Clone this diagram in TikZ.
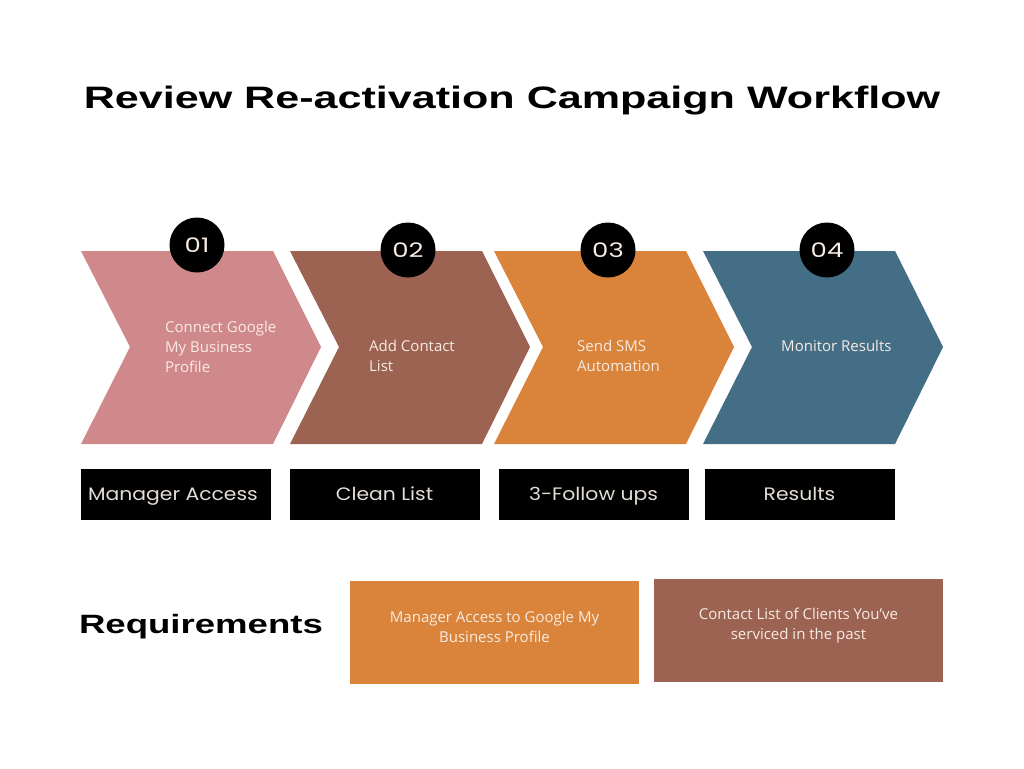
\documentclass[tikz,border=0pt]{standalone}
\usepackage{fontspec}
\setmainfont{Open Sans}
\newfontfamily\titlefont{Liberation Sans}
\newfontfamily\geofont{Poppins}
\definecolor{cpink}{HTML}{D0898B}
\definecolor{cbrown}{HTML}{9C6252}
\definecolor{corange}{HTML}{D9843A}
\definecolor{cblue}{HTML}{436E85}
\definecolor{ccream}{HTML}{F7EBE3}
\definecolor{cgrey}{HTML}{E4DED8}
\tikzset{
  chevtext/.style={anchor=north west, align=left, inner sep=0pt, text=ccream,
    font=\fontsize{15}{20}\selectfont},
  numcircle/.style={circle, fill=black, minimum size=55pt, inner sep=0pt},
  numtext/.style={inner sep=0pt, text=ccream, xscale=1.3, text height=14pt, text depth=0pt,
    font=\geofont\fontsize{20}{20}\selectfont},
  labelbox/.style={rectangle, fill=black, minimum width=190pt, minimum height=51pt,
    inner sep=0pt},
  labeltext/.style={inner sep=0pt, text=cgrey, xscale=1.13, text height=13pt, text depth=0pt,
    font=\geofont\fontsize{18}{18}\selectfont},
  reqbox/.style={rectangle, minimum width=289pt, minimum height=103pt, inner sep=0pt},
  reqtext/.style={align=center, inner sep=0pt, text=ccream,
    font=\fontsize{15}{20.5}\selectfont},
  bigtitle/.style={anchor=base, inner sep=0pt, xscale=1.39,
    font=\titlefont\bfseries\fontsize{31}{31}\selectfont}
}
\newcommand\chevronshape[3]{%
  \fill[#2] (#1,251) -- ++(192,0) -- ++(48,96) -- ++(-48,97) -- ++(-192,0) -- ++(49,-97) -- cycle;
  \coordinate (#3) at (#1,251);}
\begin{document}
\begin{tikzpicture}[x=1pt,y=-1pt]
\useasboundingbox[fill=white] (0,0) rectangle (1024,768);

% title
\node[bigtitle] (title) at (512,108) {Review Re-activation Campaign Workflow};

% chevrons
\chevronshape{81}{cpink}{c1}
\chevronshape{290}{cbrown}{c2}
\chevronshape{494}{corange}{c3}
\chevronshape{703}{cblue}{c4}

% chevron texts
\node[chevtext] (t1) at (165,321) {Connect Google\\My Business\\Profile};
\node[chevtext] (t2) at (369,340) {Add Contact\\List};
\node[chevtext] (t3) at (577,340) {Send SMS\\Automation};
\node[chevtext] (t4) at (781,340) {Monitor Results};

% number circles
\node[numcircle] (n1) at (197,245) {};
\node[numcircle] (n2) at (408,250) {};
\node[numcircle] (n3) at (608,250) {};
\node[numcircle] (n4) at (827,250) {};
\node[numtext] (n1t) at (n1) {01};
\node[numtext] (n2t) at (n2) {02};
\node[numtext] (n3t) at (n3) {03};
\node[numtext] (n4t) at (n4) {04};

% black label boxes
\node[labelbox] (b1) at (176,494.5) {};
\node[labelbox] (b2) at (384.5,494.5) {};
\node[labelbox] (b3) at (593.5,494.5) {};
\node[labelbox] (b4) at (799.5,494.5) {};
\node[labeltext] (b1t) at (173,494) {Manager Access};
\node[labeltext] (b2t) at (384.5,494) {Clean List};
\node[labeltext] (b3t) at (593.5,494) {3-Follow ups};
\node[labeltext] (b4t) at (799.5,494) {Results};

% requirements
\node[anchor=base, inner sep=0pt, xscale=1.38, font=\titlefont\bfseries\fontsize{26.5}{26.5}\selectfont] (req) at (201,633) {Requirements};
\node[reqbox, fill=corange] (r1) at (494.5,632.5) {};
\node[reqtext] (r1t) at (494.5,627) {Manager Access to Google My\\Business Profile};
\node[reqbox, fill=cbrown] (r2) at (798.5,630.5) {};
\node[reqtext] (r2t) at (798.5,625.5) {Contact List of Clients You’ve\\serviced in the past};
\end{tikzpicture}
\end{document}
